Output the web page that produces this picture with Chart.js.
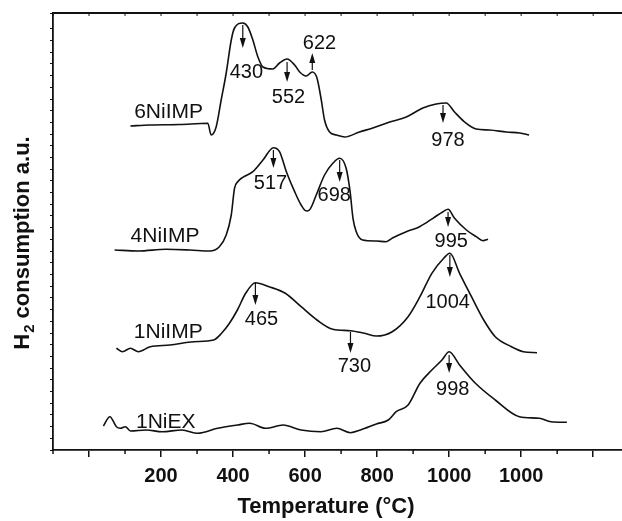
<!DOCTYPE html>
<html>
<head>
<meta charset="utf-8">
<title>H2-TPR</title>
<script src="https://cdn.jsdelivr.net/npm/chart.js"></script>
<style>
    html, body { margin: 0; padding: 0; background: #fff; overflow: hidden; }
    #wrap { width: 622px; height: 521px; position: relative; }
</style>
</head>
<body>
<div id="wrap"><canvas id="tprChart"></canvas></div>
<script>
// temperature (°C) and signal (a.u., stacked offsets)
const temp6 = [115, 168, 251, 330, 339, 353, 367, 381, 395, 404, 427, 441, 455, 469, 483, 510, 529, 550, 571, 585, 603, 620, 633, 645, 654, 668, 687, 710, 751, 788, 835, 881, 927, 964, 992, 1015, 1043, 1075, 1112, 1159, 1196, 1222];
const sig6  = [324, 325, 325.5, 326.7, 315, 323, 350, 377, 410, 422, 427, 423, 410, 393, 383, 381, 387, 391, 385, 378, 374, 378, 372, 350, 330, 318, 315, 313, 318, 322, 328, 333, 342, 346, 347, 338, 328, 321, 320, 318, 317, 315];

const temp4 = [71, 137, 214, 280, 335, 362, 381, 395, 404, 413, 427, 455, 483, 512, 529, 548, 571, 589, 603, 612, 631, 654, 677, 696, 714, 725, 733, 742, 760, 798, 825, 844, 881, 918, 955, 983, 997, 1015, 1048, 1075, 1094, 1108];
const sig4  = [200, 199, 200.7, 200, 199, 203.3, 215, 235, 261.7, 268.3, 272.7, 278.3, 290, 302.3, 298.3, 278.3, 258.3, 245, 239, 240, 255, 275, 286.7, 291.7, 281.7, 258.3, 231.7, 218.3, 210, 209, 208.3, 212.3, 218.3, 223.3, 231.7, 238.3, 240.7, 231.7, 220, 213.3, 209.3, 210.7];

const temp1 = [76, 93, 115, 137, 170, 225, 291, 346, 368, 390, 412, 435, 462, 500, 545, 589, 633, 677, 726, 765, 798, 842, 886, 919, 952, 985, 1002, 1029, 1062, 1096, 1128, 1173, 1206, 1244];
const sig1  = [101.7, 98.3, 101.7, 98.3, 103.3, 105, 108.3, 110, 116.7, 126.7, 140, 156.7, 167.3, 163.3, 156.7, 143.3, 130, 120.7, 119.3, 116.7, 114, 118.3, 133.3, 153.3, 176.7, 191.7, 196.7, 176.7, 153.3, 130, 113.3, 103.3, 98.3, 97.3];

const tempEx = [40, 58, 76, 87, 101, 115, 159, 203, 258, 302, 357, 412, 446, 490, 539, 589, 644, 688, 726, 754, 798, 831, 853, 886, 919, 952, 980, 1000, 1029, 1073, 1128, 1195, 1250, 1283, 1327];
const sigEx  = [24, 33.3, 23.3, 21.7, 23.3, 19, 20, 18.3, 20, 16.7, 21.7, 25, 26.7, 21.7, 25, 20, 18.3, 21.7, 17.3, 20, 26, 30, 38.3, 45, 66.7, 80, 90, 98.3, 85, 66.7, 50, 33.3, 31.7, 28.3, 27.7];

const xTickValues = [200, 400, 600, 800, 1000, 1200];
const xTickLabels = ['200', '400', '600', '800', '1000', '1000'];
const sampleNames = ['6NiIMP', '4NiIMP', '1NiIMP', '1NiEX'];

// where names / peak arrows sit (data coordinates)
const nameSpots = [[221, 338], [211, 214], [220, 118], [213, 28]];
const peakMarks = [
    { text: '430',  x: 427,  from: 425, to: 402, lx: 437,  ly: 378 },
    { text: '552',  x: 550,  from: 388, to: 368, lx: 554,  ly: 353 },
    { text: '622',  x: 620,  from: 380, to: 397, lx: 640,  ly: 407 },
    { text: '978',  x: 983,  from: 345, to: 327, lx: 997,  ly: 310 },
    { text: '517',  x: 512,  from: 300, to: 282, lx: 504,  ly: 267 },
    { text: '698',  x: 696,  from: 290, to: 268, lx: 681,  ly: 255 },
    { text: '995',  x: 997,  from: 238, to: 223, lx: 1006, ly: 209 },
    { text: '465',  x: 462,  from: 167, to: 145, lx: 479,  ly: 131 },
    { text: '730',  x: 726,  from: 118, to: 97,  lx: 737,  ly: 84 },
    { text: '1004', x: 1002, from: 195, to: 173, lx: 996,  ly: 148 },
    { text: '998',  x: 1000, from: 95,  to: 77,  lx: 1010, ly: 61 }
];

const FONT = "'Liberation Sans', Arial, Helvetica, sans-serif";
const INK = '#111';

function pairs(xs, ys) {
    return xs.map((x, i) => ({ x: x, y: ys[i] }));
}

function curve(label, xs, ys) {
    return {
        label: label,
        data: pairs(xs, ys),
        borderColor: INK,
        borderWidth: 1.6,
        pointRadius: 0,
        fill: false,
        cubicInterpolationMode: 'monotone'
    };
}

const decorPlugin = {
    id: 'decor',
    afterDraw(chart) {
        const ctx = chart.ctx;
        const xs = chart.scales.x;
        const ys = chart.scales.y;
        const area = chart.chartArea;
        ctx.save();
        ctx.strokeStyle = INK;
        ctx.fillStyle = INK;

        // top frame line with inward ticks
        ctx.lineWidth = 1.8;
        ctx.beginPath();
        ctx.moveTo(area.left, area.top);
        ctx.lineTo(area.right, area.top);
        ctx.stroke();
        ctx.lineWidth = 1;
        for (let t = -100; t <= 1400; t += 100) {
            const px = xs.getPixelForValue(t);
            ctx.beginPath();
            ctx.moveTo(px, area.top);
            ctx.lineTo(px, area.top + 3);
            ctx.stroke();
        }
        // minor ticks at the bottom
        ctx.lineWidth = 1.5;
        for (let t = -100; t <= 1400; t += 200) {
            const px = xs.getPixelForValue(t);
            ctx.beginPath();
            ctx.moveTo(px, area.bottom);
            ctx.lineTo(px, area.bottom + 4);
            ctx.stroke();
        }

        // sample names
        ctx.font = '21px ' + FONT;
        ctx.textAlign = 'center';
        ctx.textBaseline = 'middle';
        sampleNames.forEach((n, i) => {
            ctx.fillText(n, xs.getPixelForValue(nameSpots[i][0]), ys.getPixelForValue(nameSpots[i][1]));
        });

        // peak arrows and temperatures
        ctx.font = '20px ' + FONT;
        ctx.lineWidth = 1.2;
        peakMarks.forEach(m => {
            const px = xs.getPixelForValue(m.x);
            const y1 = ys.getPixelForValue(m.from);
            const y2 = ys.getPixelForValue(m.to);
            const dir = Math.sign(y2 - y1);
            ctx.beginPath();
            ctx.moveTo(px, y1);
            ctx.lineTo(px, y2 - dir * 8);
            ctx.stroke();
            ctx.beginPath();
            ctx.moveTo(px, y2);
            ctx.lineTo(px - 3, y2 - dir * 10);
            ctx.lineTo(px + 3, y2 - dir * 10);
            ctx.closePath();
            ctx.fill();
            ctx.fillText(m.text, xs.getPixelForValue(m.lx), ys.getPixelForValue(m.ly));
        });

        // x title
        ctx.font = 'bold 22px ' + FONT;
        ctx.fillText('Temperature (°C)', 326, 507);

        // y title with subscript
        ctx.translate(29, 0);
        ctx.rotate(-Math.PI / 2);
        ctx.textAlign = 'left';
        ctx.textBaseline = 'alphabetic';
        ctx.font = 'bold 22px ' + FONT;
        const wH = ctx.measureText('H').width;
        const wRest = ctx.measureText(' consumption a.u.').width;
        ctx.font = 'bold 15px ' + FONT;
        const w2 = ctx.measureText('2').width;
        const total = wH + 1 + w2 + wRest;
        let pos = -(243 + total / 2);
        ctx.font = 'bold 22px ' + FONT;
        ctx.fillText('H', pos, 0);
        pos += wH + 1;
        ctx.font = 'bold 15px ' + FONT;
        ctx.fillText('2', pos, 5);
        pos += w2;
        ctx.font = 'bold 22px ' + FONT;
        ctx.fillText(' consumption a.u.', pos, 0);
        ctx.restore();
    }
};

const chart = new Chart(document.getElementById('tprChart'), {
    type: 'line',
    data: {
        datasets: [
            curve(sampleNames[0], temp6, sig6),
            curve(sampleNames[1], temp4, sig4),
            curve(sampleNames[2], temp1, sig1),
            curve(sampleNames[3], tempEx, sigEx)
        ]
    },
    options: {
        responsive: true,
        maintainAspectRatio: false,
        animation: false,
        layout: { padding: { left: 0, right: 0, top: 13, bottom: 0 } },
        plugins: {
            legend: { display: false },
            tooltip: { enabled: false }
        },
        scales: {
            x: {
                type: 'linear',
                min: -100,
                max: 1480,
                afterFit(scale) { scale.height = 71; },
                border: { display: true, color: INK, width: 1.8 },
                grid: {
                    drawOnChartArea: false,
                    drawTicks: true,
                    tickLength: 7,
                    lineWidth: 1.5,
                    color: c => (c.tick && Math.round(c.tick.value) % 200 === 0) ? INK : 'rgba(0,0,0,0)'
                },
                ticks: {
                    stepSize: 100,
                    includeBounds: false,
                    autoSkip: false,
                    maxRotation: 0,
                    padding: 7,
                    color: INK,
                    font: { family: FONT, size: 20, weight: 'bold' },
                    callback: function (value) {
                        const i = xTickValues.indexOf(Math.round(value));
                        return i >= 0 ? xTickLabels[i] : '';
                    }
                }
            },
            y: {
                type: 'linear',
                min: 0,
                max: 437,
                afterFit(scale) { scale.width = 53; },
                border: { display: true, color: INK, width: 1.8 },
                grid: {
                    drawOnChartArea: false,
                    drawTicks: true,
                    tickLength: 3,
                    lineWidth: 1,
                    color: INK
                },
                ticks: { display: false, stepSize: 11.7 }
            }
        }
    },
    plugins: [decorPlugin]
});
</script>
</body>
</html>
